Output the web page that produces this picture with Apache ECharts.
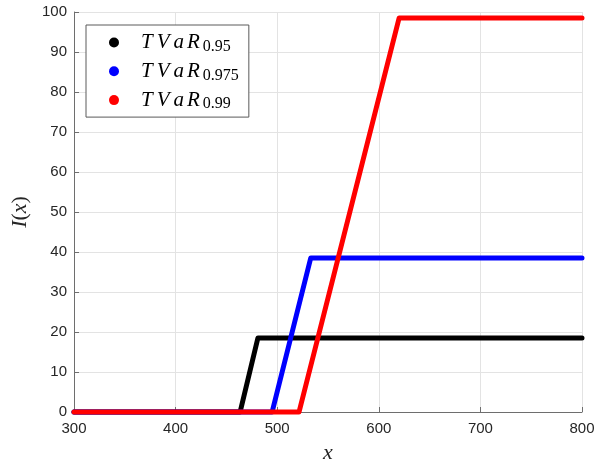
<!DOCTYPE html>
<html>
<head>
<meta charset="utf-8">
<script src="https://cdn.jsdelivr.net/npm/echarts@6/dist/echarts.min.js"></script>
<style>
html,body{margin:0;padding:0;background:#fff;}
#chart{width:594px;height:464px;}
</style>
</head>
<body>
<div id="chart"></div>
<script>
// Data
const seriesNames = ['TVaR_0.95', 'TVaR_0.975', 'TVaR_0.99'];
const subscripts = ['0.95', '0.975', '0.99'];
const x95 = [300, 463.5, 481, 800];
const y95 = [0, 0, 18.5, 18.5];
const x975 = [300, 495, 533, 800];
const y975 = [0, 0, 38.5, 38.5];
const x99 = [300, 521.5, 620, 800];
const y99 = [0, 0, 98.5, 98.5];
const xTicks = [300, 400, 500, 600, 700, 800];
const yTicks = [0, 10, 20, 30, 40, 50, 60, 70, 80, 90, 100];
const colors = ['#000000', '#0000ff', '#ff0000'];

function pairs(xs, ys) { return xs.map((v, i) => [v, ys[i]]); }
const datasets = [pairs(x95, y95), pairs(x975, y975), pairs(x99, y99)];

const chart = echarts.init(document.getElementById('chart'), null, {renderer: 'canvas'});
const serif = '"Liberation Serif", "DejaVu Serif", serif';
const sans = '"Liberation Sans", Arial, sans-serif';

function letter(pad) {
  return {fontFamily: serif, fontStyle: 'italic', fontSize: 21, lineHeight: 24, color: '#000', padding: [0, pad, 0, 0]};
}

const option = {
  animation: false,
  backgroundColor: '#ffffff',
  grid: {left: 74, right: 12, top: 12, bottom: 52, containLabel: false, outerBoundsMode: 'none'},
  legend: {
    orient: 'vertical',
    left: 86, top: 25,
    padding: [7, 10, 5, 23],
    itemGap: 6.3,
    itemWidth: 10, itemHeight: 10,
    icon: 'circle',
    backgroundColor: '#ffffff',
    borderColor: '#5a5a5a',
    borderWidth: 1,
    borderRadius: 0,
    selectedMode: false,
    data: seriesNames,
    formatter: function (name) {
      const sub = subscripts[seriesNames.indexOf(name)];
      return '{t|T}{v|V}{a|a}{r|R}{s|' + sub + '}';
    },
    textStyle: {
      padding: [0, 0, 0, 17],
      rich: {
        t: letter(4),
        v: letter(4),
        a: letter(3),
        r: letter(3),
        s: {fontFamily: serif, fontSize: 16, lineHeight: 12, verticalAlign: 'bottom', color: '#000'}
      }
    }
  },
  xAxis: {
    type: 'value',
    min: xTicks[0], max: xTicks[xTicks.length - 1], interval: 100,
    name: '{i|x}',
    nameLocation: 'middle',
    nameGap: 30,
    nameTextStyle: {rich: {i: {fontFamily: serif, fontStyle: 'italic', fontSize: 22, color: '#262626'}}},
    axisLine: {show: true, onZero: false, lineStyle: {color: '#6e6e6e', width: 1}},
    axisTick: {show: true, inside: true, length: 5, lineStyle: {color: '#6e6e6e'}},
    axisLabel: {fontFamily: sans, fontSize: 15, color: '#262626', margin: 9},
    splitLine: {show: true, lineStyle: {color: '#e3e3e3', width: 1}}
  },
  yAxis: {
    type: 'value',
    min: yTicks[0], max: yTicks[yTicks.length - 1], interval: 10,
    name: '{i|I}{p|(}{i|x}{p|)}',
    nameLocation: 'middle',
    nameGap: 41,
    nameRotate: 90,
    nameTextStyle: {rich: {
      i: {fontFamily: serif, fontStyle: 'italic', fontSize: 22, color: '#262626'},
      p: {fontFamily: serif, fontSize: 22, color: '#262626'}
    }},
    axisLine: {show: true, onZero: false, lineStyle: {color: '#6e6e6e', width: 1}},
    axisTick: {show: true, inside: true, length: 5, lineStyle: {color: '#6e6e6e'}},
    axisLabel: {fontFamily: sans, fontSize: 15, color: '#262626', margin: 7},
    splitLine: {show: true, lineStyle: {color: '#e3e3e3', width: 1}}
  },
  series: seriesNames.map((n, i) => ({
    name: n,
    type: 'line',
    data: datasets[i],
    color: colors[i],
    showSymbol: false,
    symbol: 'circle',
    lineStyle: {width: 5, color: colors[i], cap: 'round', join: 'round'},
    itemStyle: {color: colors[i]},
    z: 2 + i,
    clip: false,
    silent: true
  }))
};
chart.setOption(option);
</script>
</body>
</html>
